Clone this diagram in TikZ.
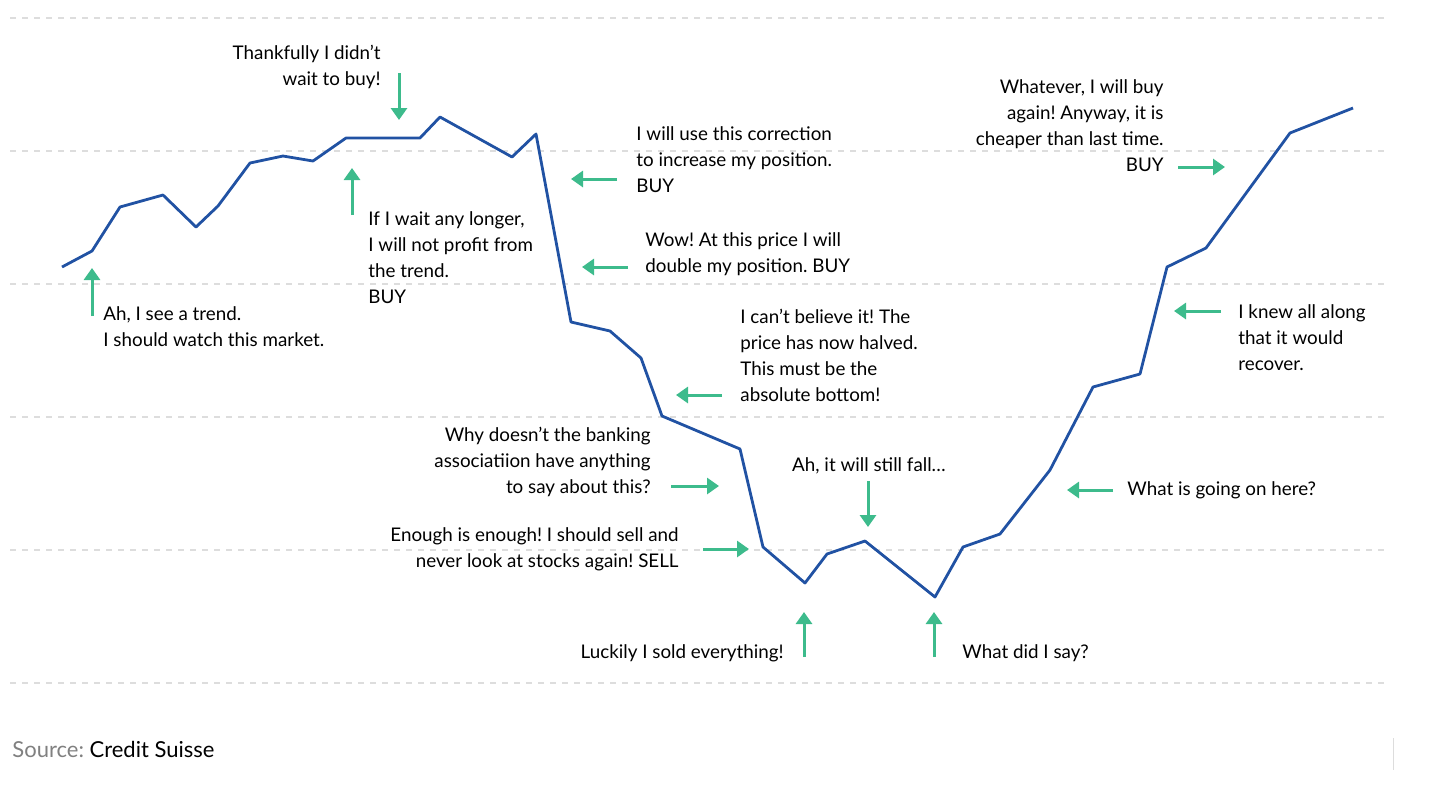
\documentclass[tikz,border=0pt]{standalone}
\usepackage{fontspec}
\setmainfont{Lato}
\usetikzlibrary{arrows.meta}
\frenchspacing

\definecolor{lineblue}{HTML}{2152A3}
\definecolor{arrowgreen}{HTML}{3DBB8C}
\definecolor{gridgray}{HTML}{DDDDDD}

\tikzset{
  say/.style={inner sep=0pt, font=\fontsize{9.4}{13}\selectfont, align=left},
  sayr/.style={say, align=right},
  hint/.style={arrowgreen, line width=1.5pt, -{Triangle[length=6pt,width=8pt]}},
}

\begin{document}
\begin{tikzpicture}[x=0.5pt,y=-0.5pt]
  \useasboundingbox (0,0) rectangle (1456,805);
  % Raster
  \foreach \y in {18,151,284,417,550,683}
    \draw[gridgray, dashed, line width=0.6pt] (10,\y) -- (1388,\y);

  % Kursverlauf
  \draw[lineblue, line width=1.4pt, line join=round]
    (62,267) -- (92,251) -- (120,207) -- (163,195) -- (196,227) -- (218,206)
    -- (250,163) -- (283,156) -- (313,161) -- (346,138) -- (420,138) -- (440,117)
    -- (512,157) -- (536,134) -- (571,322) -- (610,331) -- (641,358) -- (662,416)
    -- (740,449) -- (763,547) -- (805,583) -- (827,554) -- (865,541) -- (935,597)
    -- (963,547) -- (1000,534) -- (1050,470) -- (1093,387) -- (1140,374)
    -- (1167,267) -- (1206,248) -- (1290,133) -- (1353,108);

  % Pfeile
  \draw[hint] (92,316) -- (92,268);
  \draw[hint] (399,73) -- (399,120);
  \draw[hint] (352,215) -- (352,168);
  \draw[hint] (617,179) -- (571,179);
  \draw[hint] (628,267) -- (582,267);
  \draw[hint] (722,395) -- (676,395);
  \draw[hint] (671,486) -- (719,486);
  \draw[hint] (703,549) -- (749,549);
  \draw[hint] (868,481) -- (868,527);
  \draw[hint] (804,657) -- (804,612);
  \draw[hint] (934,657) -- (934,612);
  \draw[hint] (1113,490) -- (1067,490);
  \draw[hint] (1221,311) -- (1174,311);
  \draw[hint] (1178,167) -- (1225,167);

  % Texte
  \node[say, anchor=north west] (trend) at (103,306) {Ah, I see a trend.\\I should watch this market.};
  \node[sayr, anchor=north east] (thank) at (381,45) {Thankfully I didn’t\\wait to buy!};
  \node[say, anchor=north west] (wait) at (368,211) {If I wait any longer,\\I will not profit from\\the trend.\\BUY};
  \node[say, anchor=north west] (corr) at (636,126) {I will use this correction\\to increase my position.\\BUY};
  \node[say, anchor=north west] (wow) at (645,232) {Wow! At this price I will\\double my position. BUY};
  \node[say, anchor=north west] (halved) at (740,309) {I can’t believe it! The\\price has now halved.\\This must be the\\absolute bottom!};
  \node[sayr, anchor=north east] (bank) at (651,427) {Why doesn’t the banking\\associatiion have anything\\to say about this?};
  \node[sayr, anchor=north east] (sell) at (679,527) {Enough is enough! I should sell and\\never look at stocks again! SELL};
  \node[say, anchor=north] (fall) at (869,457) {Ah, it will still fall…};
  \node[say, anchor=east] (lucky) at (784,653) {Luckily I sold everything!};
  \node[say, anchor=west] (said) at (962,653) {What did I say?};
  \node[say, anchor=west] (going) at (1127,490) {What is going on here?};
  \node[say, anchor=north west] (knew) at (1238,304) {I knew all along\\that it would\\recover.};
  \node[sayr, anchor=north east] (again) at (1164,79) {Whatever, I will buy\\again! Anyway, it is\\cheaper than last time.\\BUY};

  % Quelle
  \node[inner sep=0pt, anchor=west, font=\fontsize{11}{13}\selectfont] (source) at (12,749)
    {\textcolor{gray}{Source:} Credit Suisse};
  \draw[gridgray, line width=0.5pt] (1393,738) -- (1393,770);
\end{tikzpicture}
\end{document}
